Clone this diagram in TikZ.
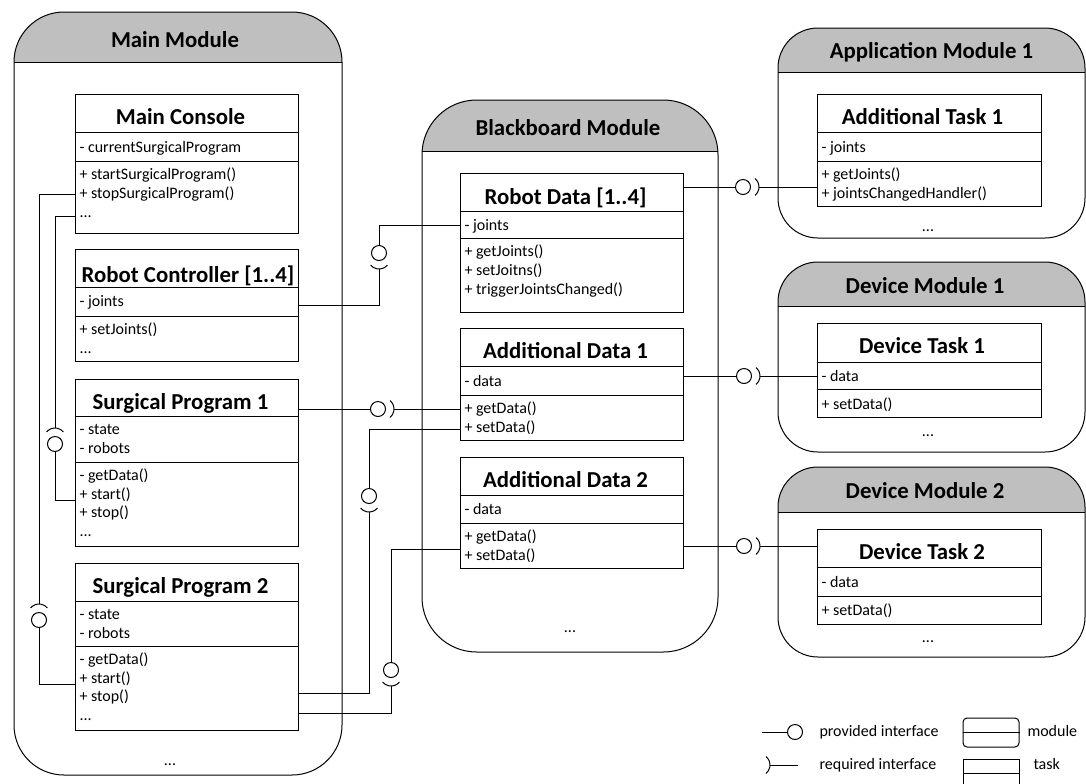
\documentclass[tikz,border=0pt]{standalone}
\usepackage{fontspec}
\setmainfont{Carlito}
\usetikzlibrary{fit}

% socket of a required interface: around point #1, open side towards angle #2, tip stored as #3
\newcommand{\reqif}[3]{%
  \draw (#1) ++(#2:5) ++(#2-50:11) arc[start angle=#2-50, end angle=#2+50, radius=11];
  \path (#1) ++(#2:16) coordinate (#3);}

\begin{document}
\begin{tikzpicture}[x=0.75pt, y=-0.75pt, line width=0.75pt,
    modbox/.style 2 args={draw, rounded corners=#1, inner sep=0pt,
      path picture={\fill[black!25, sharp corners] (path picture bounding box.north west) rectangle ([yshift=-#2]path picture bounding box.north east);
        \draw[sharp corners] ([yshift=-#2]path picture bounding box.north west) -- ([yshift=-#2]path picture bounding box.north east);}},
    clsbox/.style={draw, inner sep=0pt},
    provball/.style={draw, circle, fill=white, inner sep=0pt, minimum size=11.25pt},
    ttl/.style={font=\fontsize{17.1}{20}\selectfont\bfseries, anchor=base, inner sep=0pt},
    txt/.style={font=\fontsize{12}{13.9}\selectfont, anchor=base west, align=left, inner sep=0pt}]
  \useasboundingbox (0,0) rectangle (1086,783);

  % modules
  \node[modbox={37.5pt}{37.5pt}, fit={(14,12) (342,775)}] (mainmod) {};
  \node[ttl] (mainmodt) at (175,47) {Main Module};
  \node[txt, anchor=base] (mainmodd) at (170,765) {...};
  \node[modbox={41pt}{38.25pt}, fit={(422,100) (718,652)}] (bbmod) {};
  \node[ttl] (bbmodt) at (568,135) {Blackboard Module};
  \node[txt, anchor=base] (bbmodd) at (570,632) {...};
  \node[modbox={30pt}{33pt}, fit={(778,28) (1085,238)}] (appmod) {};
  \node[ttl] (appmodt) at (931.5,58) {Application Module 1};
  \node[txt, anchor=base] (appmodd) at (928,231) {...};
  \node[modbox={30pt}{33pt}, fit={(778,262) (1085,452)}] (devmoda) {};
  \node[ttl] (devmodat) at (925,293) {Device Module 1};
  \node[txt, anchor=base] (devmodad) at (928,436) {...};
  \node[modbox={30pt}{33.75pt}, fit={(778,467) (1085,657)}] (devmodb) {};
  \node[ttl] (devmodbt) at (925,498) {Device Module 2};
  \node[txt, anchor=base] (devmodbd) at (928,642) {...};

  % tasks of the main module (multi-line texts sit on their last line)
  \node[clsbox, fit={(75,94) (298,233)}] (mc) {};
  \draw (mc.north west) ++(0,39) -- ++(223,0) ++(-223,29) -- ++(223,0);
  \node[ttl] (mct) at (180.5,124) {Main Console};
  \node[txt] (mca) at (79,152) {- currentSurgicalProgram};
  \node[txt] (mcm) at (79,217) {+ startSurgicalProgram()\\+ stopSurgicalProgram()\\...};

  \node[clsbox, fit={(75,249) (298,361)}] (rc) {};
  \draw (rc.north west) ++(0,39) -- ++(223,0) ++(-223,29) -- ++(223,0);
  \node[ttl] (rct) at (188,282) {Robot Controller [1..4]};
  \node[txt] (rca) at (79,306) {- joints};
  \node[txt] (rcm) at (79,353.5) {+ setJoints()\\...};

  \node[clsbox, fit={(75,379) (298,546)}] (sp1) {};
  \draw (sp1.north west) ++(0,38) -- ++(223,0) ++(-223,46) -- ++(223,0);
  \node[ttl] (sp1t) at (180.5,409) {Surgical Program 1};
  \node[txt] (sp1a) at (79,453.5) {- state\\- robots};
  \node[txt] (sp1m) at (79,536.5) {- getData()\\+ start()\\+ stop()\\...};

  \node[clsbox, fit={(75,563) (298,730)}] (sp2) {};
  \draw (sp2.north west) ++(0,39) -- ++(223,0) ++(-223,45) -- ++(223,0);
  \node[ttl] (sp2t) at (180.5,593) {Surgical Program 2};
  \node[txt] (sp2a) at (79,638.5) {- state\\- robots};
  \node[txt] (sp2m) at (79,720.5) {- getData()\\+ start()\\+ stop()\\...};

  % tasks of the blackboard module
  \node[clsbox, fit={(460,173) (683,312)}] (rd) {};
  \draw (rd.north west) ++(0,39) -- ++(223,0) ++(-223,27) -- ++(223,0);
  \node[ttl] (rdt) at (565.5,204) {Robot Data [1..4]};
  \node[txt] (rda) at (464,230) {- joints};
  \node[txt] (rdm) at (464,294) {+ getJoints()\\+ setJoitns()\\+ triggerJointsChanged()};

  \node[clsbox, fit={(460,328) (683,440)}] (ad1) {};
  \draw (ad1.north west) ++(0,39) -- ++(223,0) ++(-223,29) -- ++(223,0);
  \node[ttl] (ad1t) at (565.5,358) {Additional Data 1};
  \node[txt] (ad1a) at (464,386) {- data};
  \node[txt] (ad1m) at (464,432.5) {+ getData()\\+ setData()};

  \node[clsbox, fit={(460,457) (683,568)}] (ad2) {};
  \draw (ad2.north west) ++(0,39) -- ++(223,0) ++(-223,28) -- ++(223,0);
  \node[ttl] (ad2t) at (565.5,487) {Additional Data 2};
  \node[txt] (ad2a) at (464,514) {- data};
  \node[txt] (ad2m) at (464,560.5) {+ getData()\\+ setData()};

  % tasks of the other modules
  \node[clsbox, fit={(817,94) (1041,206)}] (at1) {};
  \draw (at1.north west) ++(0,39) -- ++(224,0) ++(-224,29) -- ++(224,0);
  \node[ttl] (at1t) at (922.5,124) {Additional Task 1};
  \node[txt] (at1a) at (821,152) {- joints};
  \node[txt] (at1m) at (821,198.5) {+ getJoints()\\+ jointsChangedHandler()};

  \node[clsbox, fit={(817,323) (1041,417)}] (dt1) {};
  \draw (dt1.north west) ++(0,40) -- ++(224,0) ++(-224,27) -- ++(224,0);
  \node[ttl] (dt1t) at (922,353) {Device Task 1};
  \node[txt] (dt1a) at (821,381) {- data};
  \node[txt] (dt1m) at (821,409) {+ setData()};

  \node[clsbox, fit={(817,529) (1041,624)}] (dt2) {};
  \draw (dt2.north west) ++(0,39) -- ++(224,0) ++(-224,29) -- ++(224,0);
  \node[ttl] (dt2t) at (922,559) {Device Task 2};
  \node[txt] (dt2a) at (821,587) {- data};
  \node[txt] (dt2m) at (821,615) {+ setData()};

  % interfaces
  \node[provball] (b1) at (743,187) {};
  \reqif{b1}{0}{s1}
  \draw (rd.east |- b1) -- (b1);
  \draw (s1) -- (at1.west |- s1);

  \node[provball] (b2) at (744,376) {};
  \reqif{b2}{0}{s2}
  \draw (ad1.east |- b2) -- (b2);
  \draw (s2) -- (dt1.west |- s2);

  \node[provball] (b3) at (744,546) {};
  \reqif{b3}{0}{s3}
  \draw (ad2.east |- b3) -- (b3);
  \draw (s3) -- (dt2.west |- s3);

  \node[provball] (b4) at (379,253) {};
  \reqif{b4}{90}{s4}
  \coordinate (k4a) at (379,305);
  \coordinate (k4b) at (379,225);
  \draw (rc.east |- k4a) -- (k4a) -- (s4);
  \draw (b4) -- (k4b) -- (rd.west |- k4b);

  \node[provball] (b5) at (378,409) {};
  \reqif{b5}{0}{s5}
  \draw (sp1.east |- b5) -- (b5);
  \draw (s5) -- (ad1.west |- s5);

  \node[provball] (b6) at (369,496) {};
  \reqif{b6}{90}{s6}
  \coordinate (k6a) at (369,429);
  \coordinate (k6b) at (369,693);
  \draw (ad1.west |- k6a) -- (k6a) -- (b6);
  \draw (s6) -- (k6b) -- (sp2.east |- k6b);

  \node[provball] (b7) at (391,670) {};
  \reqif{b7}{90}{s7}
  \coordinate (k7a) at (391,549);
  \coordinate (k7b) at (391,713);
  \draw (ad2.west |- k7a) -- (k7a) -- (b7);
  \draw (s7) -- (k7b) -- (sp2.east |- k7b);

  \node[provball] (b8) at (39,620) {};
  \reqif{b8}{270}{s8}
  \coordinate (k8a) at (39,194);
  \coordinate (k8b) at (39,684);
  \draw (mc.west |- k8a) -- (k8a) -- (s8);
  \draw (b8) -- (k8b) -- (sp2.west |- k8b);

  \node[provball] (b9) at (55,444) {};
  \reqif{b9}{270}{s9}
  \coordinate (k9a) at (55,216);
  \coordinate (k9b) at (55,500);
  \draw (mc.west |- k9a) -- (k9a) -- (s9);
  \draw (b9) -- (k9b) -- (sp1.west |- k9b);

  % legend
  \node[provball] (lgb) at (795,732) {};
  \coordinate (lgl) at (762,732);
  \draw (lgl) -- (lgb);
  \node[txt] (lgt1) at (819,736) {provided interface};
  \coordinate (lgr) at (754,765);
  \reqif{lgr}{0}{lgs}
  \coordinate (lge) at (798,765);
  \draw (lgs) -- (lge);
  \node[txt] (lgt2) at (819,769) {required interface};
  \node[draw, rounded corners=3pt, inner sep=0pt, fit={(963,718) (1019,747)}] (lgm) {};
  \draw (lgm.west) -- (lgm.east);
  \node[txt] (lgt3) at (1027,736) {module};
  \draw (963,784) |- (1019,759) -- (1019,784);
  \draw (963,773) -- (1019,773);
  \node[txt] (lgt4) at (1033,769) {task};
\end{tikzpicture}
\end{document}
